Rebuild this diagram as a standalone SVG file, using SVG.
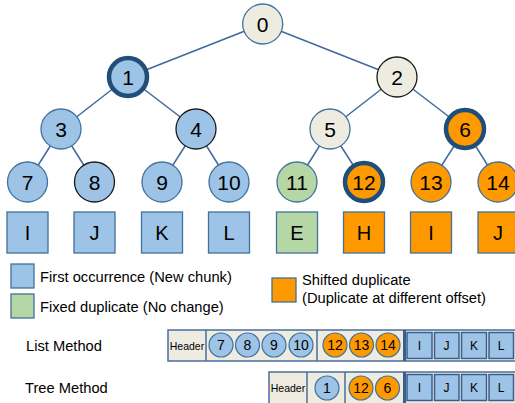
<svg xmlns="http://www.w3.org/2000/svg" width="515" height="403" viewBox="0 0 515 403">
<style>
text{font-family:"Liberation Sans",Arial,sans-serif;fill:#000;text-anchor:middle}
.e{stroke:#41699C;stroke-width:1.5;fill:none}
.b{fill:#9DC3E6;stroke:#41719C;stroke-width:1.3}
.bk{fill:#9DC3E6;stroke:#1a1a1a;stroke-width:1.3}
.w{fill:#EEECE1;stroke:#41719C;stroke-width:1.3}
.wk{fill:#EEECE1;stroke:#1a1a1a;stroke-width:1.3}
.g{fill:#B5D7A6;stroke:#41719C;stroke-width:1.3}
.o{fill:#FF9900;stroke:#41719C;stroke-width:1.3}
.thick{stroke:#1F4E79;stroke-width:4.5}
.n{font-size:21px}
.sq{font-size:20px}
.lg{font-size:14.7px;text-anchor:start}
.bar{fill:#EEECE1;stroke:#4A6E9E;stroke-width:1.5}
.div{stroke:#4A6E9E;stroke-width:1.5}
.div2{stroke:#3A5F8F;stroke-width:3}
.sb{fill:#9DC3E6;stroke:#3A5F8F;stroke-width:1.5}
.c{fill:#9DC3E6;stroke:#41719C;stroke-width:1.2}
.co{fill:#FF9900;stroke:#41719C;stroke-width:1.2}
.st{font-size:14px}
.sl{font-size:12px}
</style>
<g id="connectors">
<line class="e" x1="262.7" y1="24" x2="128" y2="77"/>
<line class="e" x1="262.7" y1="24" x2="397" y2="77"/>
<line class="e" x1="128" y1="77" x2="61" y2="129"/>
<line class="e" x1="128" y1="77" x2="196" y2="129"/>
<line class="e" x1="397" y1="77" x2="330" y2="129"/>
<line class="e" x1="397" y1="77" x2="465" y2="129"/>
<line class="e" x1="61" y1="129" x2="27.5" y2="182"/>
<line class="e" x1="61" y1="129" x2="94.5" y2="182"/>
<line class="e" x1="196" y1="129" x2="162" y2="182"/>
<line class="e" x1="196" y1="129" x2="229" y2="182"/>
<line class="e" x1="330" y1="129" x2="297" y2="182"/>
<line class="e" x1="330" y1="129" x2="364" y2="182"/>
<line class="e" x1="465" y1="129" x2="431" y2="182"/>
<line class="e" x1="465" y1="129" x2="498" y2="182"/>
</g>
<g id="n0"><circle class="w" cx="262.7" cy="24" r="20"/><text class="n" x="262.7" y="31.5">0</text></g>
<g id="n1"><circle class="b thick" cx="128" cy="77" r="19"/><text class="n" x="128" y="84.5">1</text></g>
<g id="n2"><circle class="wk" cx="397" cy="77" r="20"/><text class="n" x="397" y="84.5">2</text></g>
<g id="n3"><circle class="b" cx="61" cy="129" r="20"/><text class="n" x="61" y="136.5">3</text></g>
<g id="n4"><circle class="bk" cx="196" cy="129" r="20"/><text class="n" x="196" y="136.5">4</text></g>
<g id="n5"><circle class="w" cx="330" cy="129" r="20"/><text class="n" x="330" y="136.5">5</text></g>
<g id="n6"><circle class="o thick" cx="465" cy="129" r="19"/><text class="n" x="465" y="136.5">6</text></g>
<g id="n7"><circle class="b" cx="27.5" cy="182" r="20"/><text class="n" x="27.5" y="189.5">7</text></g>
<g id="n8"><circle class="bk" cx="94.5" cy="182" r="20"/><text class="n" x="94.5" y="189.5">8</text></g>
<g id="n9"><circle class="b" cx="162" cy="182" r="20"/><text class="n" x="162" y="189.5">9</text></g>
<g id="n10"><circle class="b" cx="229" cy="182" r="20"/><text class="n" x="229" y="189.5">10</text></g>
<g id="n11"><circle class="g" cx="297" cy="182" r="20"/><text class="n" x="297" y="189.5">11</text></g>
<g id="n12"><circle class="o thick" cx="364" cy="182" r="19"/><text class="n" x="364" y="189.5">12</text></g>
<g id="n13"><circle class="o" cx="431" cy="182" r="20"/><text class="n" x="431" y="189.5">13</text></g>
<g id="n14"><circle class="o" cx="498" cy="182" r="20"/><text class="n" x="498" y="189.5">14</text></g>
<g id="chunks">
<g id="cI1"><rect class="b" x="7" y="212" width="41" height="41"/><text class="sq" x="27.5" y="239.5">I</text></g>
<g id="cJ1"><rect class="b" x="74" y="212" width="41" height="41"/><text class="sq" x="94.5" y="239.5">J</text></g>
<g id="cK"><rect class="b" x="141.5" y="212" width="41" height="41"/><text class="sq" x="162" y="239.5">K</text></g>
<g id="cL"><rect class="b" x="208.5" y="212" width="41" height="41"/><text class="sq" x="229" y="239.5">L</text></g>
<g id="cE"><rect class="g" x="276.5" y="212" width="41" height="41"/><text class="sq" x="297" y="239.5">E</text></g>
<g id="cH"><rect class="o" x="343.5" y="212" width="41" height="41"/><text class="sq" x="364" y="239.5">H</text></g>
<g id="cI2"><rect class="o" x="410.5" y="212" width="41" height="41"/><text class="sq" x="431" y="239.5">I</text></g>
<g id="cJ2"><rect class="o" x="478" y="212" width="41" height="41"/><text class="sq" x="498" y="239.5">J</text></g>
</g>
<g id="legend">
<rect class="b" x="11" y="264" width="23" height="24"/>
<text class="lg" x="40" y="282">First occurrence (New chunk)</text>
<rect class="g" x="11" y="294" width="23" height="24"/>
<text class="lg" x="40" y="312">Fixed duplicate (No change)</text>
<rect class="o" x="272" y="278" width="24" height="24"/>
<text class="lg" x="302" y="285">Shifted duplicate</text>
<text class="lg" x="302" y="303">(Duplicate at different offset)</text>
</g>
<g id="list">
<text class="lg" x="26" y="351">List Method</text>
<rect class="bar" x="168" y="330" width="350" height="31"/>
<line class="div" x1="206" y1="330" x2="206" y2="361"/>
<line class="div" x1="317" y1="330" x2="317" y2="361"/>
<line class="div2" x1="404.5" y1="330" x2="404.5" y2="361"/>
<text class="sl" x="187" y="349.5" style="font-size:10.5px">Header</text>
<circle class="c" cx="221" cy="345" r="12"/><text class="st" x="221" y="350">7</text>
<circle class="c" cx="247.5" cy="345" r="12"/><text class="st" x="247.5" y="350">8</text>
<circle class="c" cx="274" cy="345" r="12"/><text class="st" x="274" y="350">9</text>
<circle class="c" cx="301" cy="345" r="12"/><text class="st" x="301" y="350">10</text>
<circle class="co" cx="335" cy="345" r="12"/><text class="st" x="335" y="350">12</text>
<circle class="co" cx="361.5" cy="345" r="12"/><text class="st" x="361.5" y="350">13</text>
<circle class="co" cx="388" cy="345" r="12"/><text class="st" x="388" y="350">14</text>
<rect class="sb" x="407" y="332.5" width="25" height="26"/><text class="sl" x="419.5" y="350">I</text>
<rect class="sb" x="434.5" y="332.5" width="24.5" height="26"/><text class="sl" x="446.5" y="350">J</text>
<rect class="sb" x="461.5" y="332.5" width="25" height="26"/><text class="sl" x="474" y="350">K</text>
<rect class="sb" x="489" y="332.5" width="24.5" height="26"/><text class="sl" x="501" y="350">L</text>
</g>
<g id="tree">
<text class="lg" x="25" y="393">Tree Method</text>
<rect class="bar" x="269" y="372" width="250" height="35"/>
<line class="div" x1="307" y1="372" x2="307" y2="403"/>
<line class="div" x1="345" y1="372" x2="345" y2="403"/>
<line class="div2" x1="404.5" y1="372" x2="404.5" y2="403"/>
<text class="sl" x="288" y="392" style="font-size:10.5px">Header</text>
<circle class="c" cx="327" cy="388" r="12"/><text class="st" x="327" y="393">1</text>
<circle class="co" cx="361" cy="388" r="12"/><text class="st" x="361" y="393">12</text>
<circle class="co" cx="387.5" cy="388" r="12"/><text class="st" x="387.5" y="393">6</text>
<rect class="sb" x="407" y="374.5" width="25" height="26"/><text class="sl" x="419.5" y="392">I</text>
<rect class="sb" x="434.5" y="374.5" width="24.5" height="26"/><text class="sl" x="446.5" y="392">J</text>
<rect class="sb" x="461.5" y="374.5" width="25" height="26"/><text class="sl" x="474" y="392">K</text>
<rect class="sb" x="489" y="374.5" width="24.5" height="26"/><text class="sl" x="501" y="392">L</text>
</g>
</svg>
